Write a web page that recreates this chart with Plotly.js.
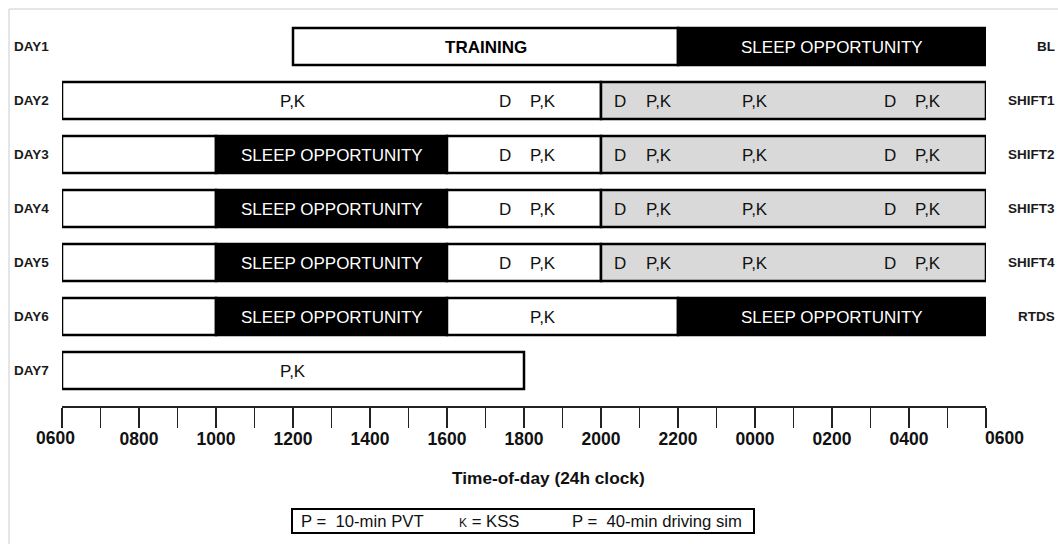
<!DOCTYPE html>
<html><head><meta charset="utf-8">
<script src="https://cdn.plot.ly/plotly-3.0.1.min.js"></script>
<style>html,body{margin:0;padding:0;background:#fff}#chart{width:1058px;height:544px}</style>
</head><body><div id="chart"></div>
<script>
// ---- data ----
const days = ['DAY1','DAY2','DAY3','DAY4','DAY5','DAY6','DAY7'];
const conditions = ['BL','SHIFT1','SHIFT2','SHIFT3','SHIFT4','RTDS',''];

// schedule segments (hour of day; 30 = 0600 next morning)
const segDay   = [1, 1,   2, 2,   3, 3, 3, 3,   4, 4, 4, 4,   5, 5, 5, 5,   6, 6, 6, 6,   7];
const segStart = [12, 22, 6, 20,  6, 10, 16, 20, 6, 10, 16, 20, 6, 10, 16, 20, 6, 10, 16, 22, 6];
const segEnd   = [22, 30, 20, 30, 10, 16, 20, 30, 10, 16, 20, 30, 10, 16, 20, 30, 10, 16, 22, 30, 18];
const segKind  = ['wake','sleep','wake','shift','wake','sleep','wake','shift','wake','sleep','wake','shift',
                  'wake','sleep','wake','shift','wake','sleep','wake','sleep','wake'];

// phase labels
const phaseDay  = [1, 1, 3, 4, 5, 6, 6];
const phaseHour = [17, 26, 13, 13, 13, 13, 26];
const phaseText = ['TRAINING','SLEEP OPPORTUNITY','SLEEP OPPORTUNITY','SLEEP OPPORTUNITY',
                   'SLEEP OPPORTUNITY','SLEEP OPPORTUNITY','SLEEP OPPORTUNITY'];

// test markers (D = driving sim, P,K = PVT + KSS)
const markDay  = [2,2,2,2,2,2,2,2,  3,3,3,3,3,3,3,  4,4,4,4,4,4,4,  5,5,5,5,5,5,5,  6, 7];
const markHour = [12,17.5,18.5,20.5,21.5,24,27.5,28.5,
                  17.5,18.5,20.5,21.5,24,27.5,28.5,
                  17.5,18.5,20.5,21.5,24,27.5,28.5,
                  17.5,18.5,20.5,21.5,24,27.5,28.5, 18.5, 12];
const markText = ['P,K','D','P,K','D','P,K','P,K','D','P,K',
                  'D','P,K','D','P,K','P,K','D','P,K',
                  'D','P,K','D','P,K','P,K','D','P,K',
                  'D','P,K','D','P,K','P,K','D','P,K', 'P,K', 'P,K'];

const tickHours = [6,7,8,9,10,11,12,13,14,15,16,17,18,19,20,21,22,23,24,25,26,27,28,29,30];
const tickText  = ['0600','','0800','','1000','','1200','','1400','','1600','','1800','',
                   '2000','','2200','','0000','','0200','','0400','','0600'];

const axisTitle = 'Time-of-day (24h clock)';
const legendItems = ['P =  10-min PVT', '<span style="font-size:12px">K</span> = KSS', 'P =  40-min driving sim'];

// ---- styling ----
const FONT = 'Liberation Sans, Arial, sans-serif';
const kindColor = {wake:'#ffffff', sleep:'#000000', shift:'#d9d9d9'};
const W = 1058, H = 544, L = 62, R = 72, T = 10, B = 138;
const pw = W - L - R, ph = H - T - B;
const px = x => (x - L) / pw;          // pixel -> paper x
const py = y => (H - B - y) / ph;      // pixel -> paper y
const tickFont = {family:FONT, size:17.5, color:'#111', weight:'bold'};

const traces = [
  {
    type:'bar', orientation:'h',
    y: segDay, base: segStart,
    x: segEnd.map((e,i) => e - segStart[i]),
    width: 0.685,
    marker:{color: segKind.map(k => kindColor[k]), line:{color:'#000', width:2.5}},
    cliponaxis:false, hoverinfo:'skip', showlegend:false
  }
];

const annotations = [];
markText.forEach((t,i) => annotations.push({
  text:t, xref:'x', yref:'y', x:markHour[i], y:markDay[i], xanchor:'center', yanchor:'middle',
  yshift:-1, showarrow:false, font:{family:FONT, size:17, color:'#111'}
}));
phaseText.forEach((t,i) => annotations.push({
  text: t === 'TRAINING' ? '<b>'+t+'</b>' : t,
  xref:'x', yref:'y', x:phaseHour[i], y:phaseDay[i], xanchor:'center', yanchor:'middle',
  yshift:-1, showarrow:false,
  font:{family:FONT, size:17, color: t === 'TRAINING' ? '#000' : '#fff'}
}));
days.forEach((d,i) => annotations.push({
  text:d, xref:'paper', yref:'y', x:px(12), y:i+1, xanchor:'left', yanchor:'middle',
  showarrow:false, font:{family:FONT, size:13.5, color:'#1a1a1a', weight:'bold'}
}));
conditions.forEach((c,i) => { if (c) annotations.push({
  text:c, xref:'paper', yref:'y', x:px(1057), y:i+1, xanchor:'right', yanchor:'middle',
  showarrow:false, font:{family:FONT, size:13.5, color:'#1a1a1a', weight:'bold'}
});});
// end tick labels sit slightly outside their ticks in the original
const lastTick = tickHours.length - 1;
[[0, -7], [lastTick, 18]].forEach(([k, dx]) => annotations.push({
  text:tickText[k], xref:'x', yref:'paper', x:tickHours[k], y:py(438),
  xanchor:'center', yanchor:'middle', xshift:dx, showarrow:false, font:tickFont
}));
annotations.push({
  text:axisTitle, xref:'paper', yref:'paper', x:px(548.5), y:py(478),
  xanchor:'center', yanchor:'middle', showarrow:false,
  font:{family:FONT, size:17.3, color:'#111', weight:'bold'}
});
const legendX = [299, 457, 570];
legendItems.forEach((t,i) => annotations.push({
  text:t, xref:'paper', yref:'paper', x:px(legendX[i]), y:py(521.5),
  xanchor:'left', yanchor:'middle', showarrow:false,
  font:{family:FONT, size:16.7, color:'#111'}
}));

const shapes = [
  {type:'rect', xref:'paper', yref:'paper', x0:px(292), x1:px(754), y0:py(509), y1:py(533),
   line:{color:'#000', width:2}, fillcolor:'rgba(0,0,0,0)'},
  {type:'line', xref:'paper', yref:'paper', x0:px(9), x1:px(1058), y0:py(9), y1:py(9),
   line:{color:'#dcdcdc', width:1.5}},
  {type:'line', xref:'paper', yref:'paper', x0:px(9), x1:px(9), y0:py(9), y1:py(544),
   line:{color:'#dcdcdc', width:1.5}}
];

const layout = {
  width:W, height:H, margin:{l:L, r:R, t:T, b:B},
  paper_bgcolor:'#fff', plot_bgcolor:'#fff',
  barmode:'overlay', showlegend:false,
  xaxis:{
    range:[6,30], tickvals:tickHours,
    ticktext:tickText.map((t,k) => (k === 0 || k === lastTick) ? '' : t),
    ticks:'outside', ticklen:20, tickwidth:1.5, tickcolor:'#222',
    ticklabelstandoff:-4,
    showline:true, linecolor:'#222', linewidth:2,
    showgrid:false, zeroline:false, fixedrange:true,
    tickfont:tickFont
  },
  yaxis:{
    range:[7 + 35.5/54, 1 - 36.5/54],
    visible:false, showgrid:false, zeroline:false, fixedrange:true
  },
  annotations, shapes
};

Plotly.newPlot('chart', traces, layout, {displayModeBar:false, staticPlot:true});
</script></body></html>
